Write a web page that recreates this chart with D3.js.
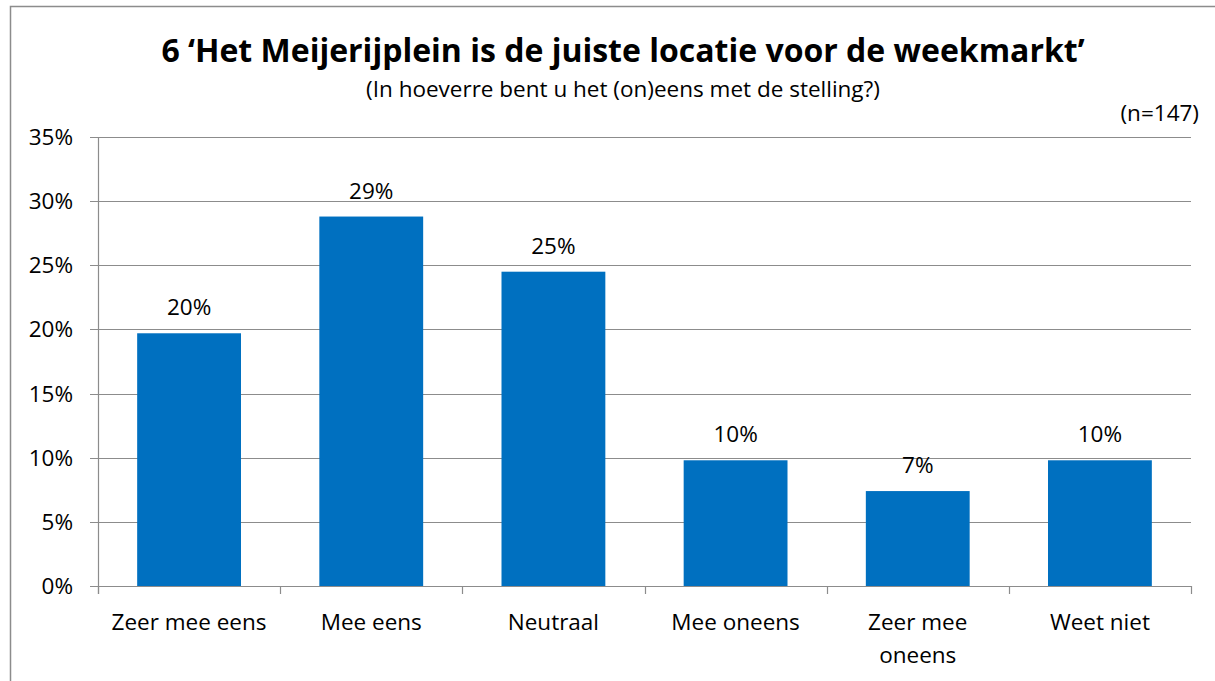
<!DOCTYPE html>
<html>
<head>
<meta charset="utf-8">
<script src="https://cdn.jsdelivr.net/npm/d3@7"></script>
<style>
  body { margin: 0; background: #fff; }
  svg { font-family: "Open Sans", Lato, sans-serif; }
</style>
</head>
<body>
<svg id="drawing_region"></svg>
<script>
const categories = ['Zeer mee eens', 'Mee eens', 'Neutraal', 'Mee oneens', 'Zeer mee oneens', 'Weet niet'];
const values = [19.7, 28.8, 24.5, 9.8, 7.4, 9.8];
const yTicks = [0, 5, 10, 15, 20, 25, 30, 35];

const width = 1215, height = 681;
const margin = {top: 137, right: 24, bottom: 95, left: 98};
const fs = '22.5px';

const svg = d3.select('#drawing_region')
    .attr('width', width)
    .attr('height', height);

// outer frame of the chart
svg.append('rect')
    .attr('x', 10.5).attr('y', 6.5)
    .attr('width', width).attr('height', height)
    .attr('fill', 'none')
    .attr('stroke', '#8c8c8c')
    .attr('stroke-width', 1.5);

const x = d3.scaleBand()
    .domain(categories)
    .range([margin.left, width - margin.right])
    .paddingInner(0.43)
    .paddingOuter(0.215);

const y = d3.scaleLinear()
    .domain([0, 35])
    .range([height - margin.bottom, margin.top]);

// gridlines
svg.append('g')
    .selectAll('line')
    .data(yTicks)
    .join('line')
    .attr('x1', margin.left - 8)
    .attr('x2', width - margin.right)
    .attr('y1', d => Math.round(y(d)) + 0.5)
    .attr('y2', d => Math.round(y(d)) + 0.5)
    .attr('stroke', '#8c8c8c')
    .attr('stroke-width', 1.2);

// y axis line
svg.append('line')
    .attr('x1', margin.left + 0.5).attr('x2', margin.left + 0.5)
    .attr('y1', y(35)).attr('y2', y(0) + 8)
    .attr('stroke', '#8c8c8c')
    .attr('stroke-width', 1.2);

// y labels
svg.append('g')
    .selectAll('text')
    .data(yTicks)
    .join('text')
    .attr('x', 73)
    .attr('y', d => y(d) + 8)
    .attr('text-anchor', 'end')
    .style('font-size', fs)
    .text(d => d + '%');

// x ticks between categories
const xTickPos = d3.range(categories.length + 1).map(i => margin.left + i * (width - margin.right - margin.left) / categories.length);
svg.append('g')
    .selectAll('line')
    .data(xTickPos)
    .join('line')
    .attr('x1', d => Math.round(d) + 0.5)
    .attr('x2', d => Math.round(d) + 0.5)
    .attr('y1', y(0))
    .attr('y2', y(0) + 8)
    .attr('stroke', '#8c8c8c')
    .attr('stroke-width', 1.2);

// bars
svg.append('g')
    .selectAll('rect')
    .data(values)
    .join('rect')
    .attr('x', (d, i) => x(categories[i]))
    .attr('y', d => y(d))
    .attr('width', x.bandwidth())
    .attr('height', d => y(0) - y(d))
    .attr('fill', '#0070c0');

// value labels
svg.append('g')
    .selectAll('text')
    .data(values)
    .join('text')
    .attr('x', (d, i) => x(categories[i]) + x.bandwidth() / 2)
    .attr('y', d => y(d) - 18)
    .attr('text-anchor', 'middle')
    .style('font-size', fs)
    .text(d => Math.round(d) + '%');

// category labels (wrap long ones)
const catLines = d => d === 'Zeer mee oneens' ? ['Zeer mee', 'oneens'] : [d];
svg.append('g')
    .selectAll('text')
    .data(categories)
    .join('text')
    .attr('x', d => x(d) + x.bandwidth() / 2)
    .attr('y', 630)
    .attr('text-anchor', 'middle')
    .style('font-size', fs)
    .each(function (d) {
        const t = d3.select(this);
        catLines(d).forEach((line, i) => {
            t.append('tspan')
                .attr('x', x(d) + x.bandwidth() / 2)
                .attr('dy', i === 0 ? 0 : 33)
                .text(line);
        });
    });

// titles
svg.append('text')
    .attr('x', 623)
    .attr('y', 62)
    .attr('text-anchor', 'middle')
    .style('font-size', '32px')
    .style('font-weight', 'bold')
    .text('6 \u2018Het Meijerijplein is de juiste locatie voor de weekmarkt\u2019');

svg.append('text')
    .attr('x', 623)
    .attr('y', 97)
    .attr('text-anchor', 'middle')
    .style('font-size', fs)
    .text('(In hoeverre bent u het (on)eens met de stelling?)');

svg.append('text')
    .attr('x', 1199)
    .attr('y', 121)
    .attr('text-anchor', 'end')
    .style('font-size', fs)
    .text('(n=147)');
</script>
</body>
</html>
